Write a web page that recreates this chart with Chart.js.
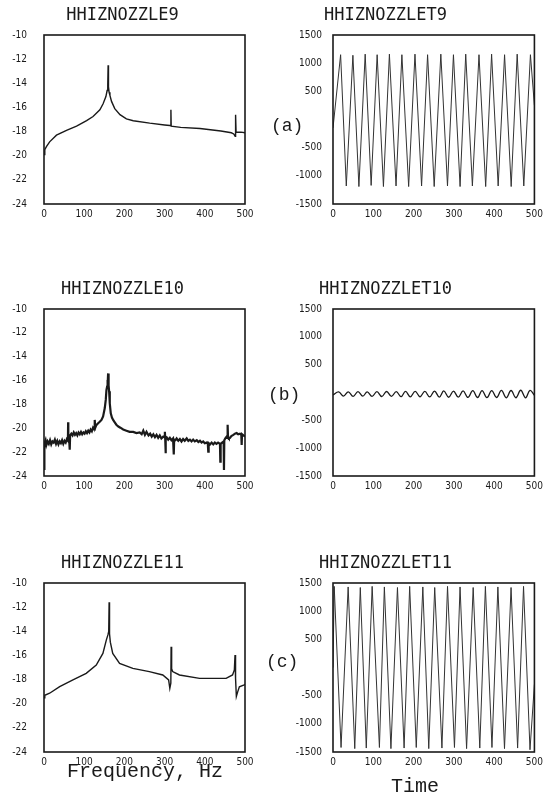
<!DOCTYPE html>
<html>
<head>
<meta charset="utf-8">
<title>HHIZNOZZLE</title>
<script src="https://cdn.jsdelivr.net/npm/chart.js@4.4.0/dist/chart.umd.min.js"></script>
<style>
  html, body { margin: 0; padding: 0; background: #fff; }
  body { width: 547px; height: 794px; position: relative; overflow: hidden; }
  canvas { position: absolute; }
  .tag { position: absolute; font-family: "Liberation Mono", monospace; color: #1a1a1a; white-space: pre; }
  .tag.case { font-size: 18px; line-height: 18px; }
  .tag.axis { font-size: 20px; line-height: 20px; }
</style>
</head>
<body>
<canvas id="spec9" width="266" height="230" style="left:0;top:0"></canvas>
<canvas id="time9" width="312" height="230" style="left:235px;top:0"></canvas>
<canvas id="spec10" width="266" height="228" style="left:0;top:274px"></canvas>
<canvas id="time10" width="312" height="228" style="left:235px;top:274px"></canvas>
<canvas id="spec11" width="266" height="246" style="left:0;top:548px"></canvas>
<canvas id="time11" width="312" height="246" style="left:235px;top:548px"></canvas>

<div class="tag case" style="left:271px;top:117px">(a)</div>
<div class="tag case" style="left:268px;top:386px">(b)</div>
<div class="tag case" style="left:266px;top:653px">(c)</div>
<div class="tag axis" style="left:67px;top:762px">Frequency, Hz</div>
<div class="tag axis" style="left:391px;top:777px">Time</div>

<script>
// ticks
const xTicks = [0, 100, 200, 300, 400, 500];
const levelTicks = [-24, -22, -20, -18, -16, -14, -12, -10];
const levelLabels = ['-24', '-22', '-20', '-18', '-16', '-14', '-12', '-10'];
const pressTicks = [-1500, -1000, -500, 0, 500, 1000, 1500];
const pressLabels = ['-1500', '-1000', '-500', '', '500', '1000', '1500'];

// panel titles
const specTitles = ['HHIZNOZZLE9', 'HHIZNOZZLE10', 'HHIZNOZZLE11'];
const timeTitles = ['HHIZNOZZLET9', 'HHIZNOZZLET10', 'HHIZNOZZLET11'];

// spectrum, nozzle 9
const spec9Hz = [0, 2, 6, 14, 31, 56, 81, 106, 122, 139,
  147, 154, 157, 158.6, 159.5, 160.4, 162, 164, 168, 176,
  189, 205, 222, 263, 300, 313, 315, 315.7, 316.4, 340,
  388, 440, 466, 472, 475.5, 476.6, 477.8, 490, 500];
const spec9Level = [-19.9, -19.5, -19.25, -18.85, -18.3, -17.9, -17.55, -17.1, -16.75, -16.2,
  -15.7, -15.1, -14.6, -14.2, -12.5, -14.3, -14.75, -15.0, -15.5, -16.1,
  -16.6, -16.95, -17.1, -17.3, -17.45, -17.5, -17.5, -16.2, -17.55, -17.65,
  -17.75, -17.95, -18.1, -18.2, -18.4, -16.6, -18.05, -18.05, -18.1];

// spectrum, nozzle 10 (noisy)
const spec10Hz = [0, 1, 4, 6, 9, 12, 15, 18, 21, 24,
  27, 30, 33, 36, 39, 42, 45, 48, 51, 54,
  57, 59.5, 60, 60.5, 63, 64, 65, 68, 71, 74,
  77, 80, 83, 86, 89, 92, 95, 98, 101, 104,
  107, 110, 113, 116, 119, 122, 125, 126.2, 127.5, 130,
  134, 138.7, 143, 147, 151.2, 153.7, 155.3, 157, 157.8, 158.6,
  159.5, 160.3, 161.1, 162, 163.6, 166.1, 169, 172, 176, 180,
  185, 190, 197, 205, 213, 222, 230, 238, 243, 247,
  251, 255, 260, 264, 268, 272, 276, 280, 284, 288,
  292, 296.5, 299, 300.7, 301.5, 302.3, 303.2, 305, 309, 313,
  317, 321, 322.5, 323.1, 323.8, 327, 330, 334, 338, 342,
  346, 350, 355, 359, 363, 367, 371, 375, 380, 384,
  388, 392, 396, 400, 404.5, 407.5, 408.6, 409.6, 413, 417,
  421, 425, 429, 433, 437.7, 438.6, 439.4, 443, 446.9, 447.7,
  448.5, 451, 454.3, 455.5, 456.8, 457.8, 460, 462.6, 466, 471,
  475, 479, 483, 487.5, 490.8, 491.7, 492.6, 496, 498.5, 500];
const spec10Level = [-23.4, -21.3, -21.0, -21.4, -21.1, -21.3, -21.0, -21.35, -21.1, -21.2,
  -20.95, -21.3, -21.05, -21.35, -21.1, -21.25, -21.0, -21.3, -21.05, -21.2,
  -20.9, -21.0, -19.5, -21.1, -21.2, -21.8, -20.6, -20.45, -20.6, -20.35,
  -20.55, -20.4, -20.6, -20.35, -20.5, -20.3, -20.5, -20.35, -20.45, -20.25,
  -20.4, -20.2, -20.35, -20.1, -20.25, -19.95, -20.1, -19.3, -19.95, -19.75,
  -19.6, -19.45, -19.3, -19.0, -18.3, -17.6, -16.8, -16.5, -15.95, -16.4,
  -15.4, -16.6, -16.4, -16.9, -17.9, -18.75, -19.1, -19.3, -19.5, -19.7,
  -19.85, -19.95, -20.1, -20.2, -20.3, -20.3, -20.4, -20.35, -20.5, -20.2,
  -20.55, -20.3, -20.6, -20.45, -20.7, -20.5, -20.75, -20.55, -20.8, -20.6,
  -20.85, -20.7, -20.75, -20.3, -20.85, -22.1, -20.8, -20.75, -20.95, -20.8,
  -21.0, -20.85, -20.9, -22.2, -20.95, -21.0, -20.85, -21.05, -20.9, -21.1,
  -20.9, -21.05, -20.85, -21.05, -20.95, -21.1, -20.95, -21.1, -21.0, -21.15,
  -21.05, -21.2, -21.1, -21.25, -21.2, -21.3, -21.95, -21.25, -21.35, -21.2,
  -21.35, -21.2, -21.3, -21.2, -21.3, -22.8, -21.3, -21.2, -21.1, -23.5,
  -21.0, -20.85, -20.7, -20.8, -19.7, -20.75, -20.85, -20.8, -20.65, -20.55,
  -20.45, -20.4, -20.5, -20.45, -20.55, -21.4, -20.5, -20.6, -20.65, -20.7];

// spectrum, nozzle 11
const spec11Hz = [0, 2, 14, 39, 72, 105, 130, 146.5, 155, 159,
  161, 162, 163, 165, 171, 188, 221, 262, 295.5, 310,
  313, 315.5, 316.2, 317.5, 320, 337, 387, 453, 469, 473.5,
  475.2, 476.5, 478.5, 482, 486, 498, 500];
const spec11Level = [-19.5, -19.3, -19.13, -18.58, -18.03, -17.48, -16.8, -15.83, -14.73, -14.3,
  -14.0, -11.6, -14.2, -14.9, -15.83, -16.66, -17.07, -17.34, -17.62, -18.03,
  -18.72, -18.3, -15.28, -17.1, -17.34, -17.62, -17.9, -17.9, -17.62, -17.2,
  -15.97, -17.9, -19.4, -19.0, -18.6, -18.44, -18.4];

// time traces
const time9T = [0, 18.9, 33, 49.4, 64.3, 79.9, 94.7, 109.6, 125.2, 140,
  156.5, 171, 187.8, 203.5, 219.9, 234.8, 251.2, 267.7, 284.2, 299,
  315.5, 329.5, 346, 362.4, 379, 393.7, 410, 425.9, 442.3, 457.2,
  473.6, 490.1, 500];
const time9P = [-150, 1150, -1180, 1140, -1190, 1160, -1170, 1150, -1190, 1160,
  -1180, 1150, -1190, 1160, -1180, 1150, -1190, 1160, -1180, 1150,
  -1190, 1160, -1180, 1150, -1190, 1160, -1180, 1150, -1190, 1160,
  -1180, 1150, 250];

const time10T = [0, 14, 26, 38, 50, 62, 74, 85, 97, 109,
  121, 133, 145, 157, 169, 180, 192, 204, 216, 228,
  240, 252, 264, 275, 287, 299, 311, 323, 335, 347,
  359, 370, 382, 394, 406, 418, 430, 442, 454, 466,
  478, 489, 500];
const time10P = [-45, 10, -65, 12, -68, 14, -66, 12, -70, 15,
  -72, 18, -70, 15, -75, 20, -78, 22, -76, 20,
  -80, 25, -82, 28, -85, 26, -83, 30, -88, 32,
  -90, 35, -92, 33, -90, 38, -95, 36, -94, 40,
  -96, 38, -50];

const time11T = [0, 3, 20, 37.6, 54, 67.8, 82.6, 97.2, 115.2, 127.5,
  143.8, 160, 176.5, 190.3, 206.7, 223, 237.7, 252.5, 270.4, 284.3,
  301.5, 315.4, 331.6, 348, 364.4, 378.3, 394.6, 409.3, 425.7, 442,
  458.3, 473, 489, 500];
const time11P = [0, 1440, -1420, 1430, -1440, 1420, -1430, 1440, -1420, 1430,
  -1440, 1420, -1430, 1440, -1420, 1430, -1440, 1420, -1430, 1440,
  -1420, 1430, -1440, 1420, -1430, 1440, -1420, 1430, -1440, 1420,
  -1430, 1440, -1460, -300];

const ink = '#1a1a1a';
const tickFont = { family: '"Liberation Sans Narrow", "DejaVu Sans Condensed", sans-serif', size: 10 };
const titleFont = { family: '"DejaVu Sans Mono", monospace', size: 17, weight: 'normal' };

// box round the plot area
const framePlugin = {
    id: 'frame',
    afterDraw(chart) {
        const { ctx, chartArea: a } = chart;
        ctx.save();
        ctx.strokeStyle = ink;
        ctx.lineWidth = 1.6;
        ctx.strokeRect(a.left, a.top, a.right - a.left, a.bottom - a.top);
        ctx.restore();
    }
};

function drawPanel(id, title, xs, ys, kind, opts) {
    const isSpec = kind === 'spec';
    const yTicks = isSpec ? levelTicks : pressTicks;
    const yLabels = isSpec ? levelLabels : pressLabels;
    new Chart(document.getElementById(id), {
        type: 'line',
        data: {
            datasets: [{
                data: xs.map((x, i) => ({ x, y: ys[i] })),
                borderColor: opts.color || ink,
                borderWidth: opts.lineWidth,
                pointRadius: 0,
                tension: opts.tension || 0,
            }]
        },
        options: {
            responsive: false,
            animation: false,
            events: [],
            layout: { padding: { right: isSpec ? 21 : 11 } },
            plugins: {
                legend: { display: false },
                tooltip: { enabled: false },
                title: {
                    display: true,
                    text: title,
                    color: ink,
                    font: titleFont,
                    padding: { top: 5, bottom: 9.6 }
                }
            },
            scales: {
                x: {
                    type: 'linear',
                    min: 0,
                    max: 500,
                    grid: { display: false, drawTicks: false },
                    border: { display: false },
                    afterBuildTicks: s => { s.ticks = xTicks.map(v => ({ value: v })); },
                    afterFit: s => { s.height = opts.xHeight; },
                    ticks: {
                        font: tickFont, color: ink, padding: 4,
                        maxRotation: 0, autoSkip: false,
                        callback: v => String(v)
                    }
                },
                y: {
                    min: yTicks[0],
                    max: yTicks[yTicks.length - 1],
                    grid: { display: false, drawTicks: false },
                    border: { display: false },
                    afterBuildTicks: s => { s.ticks = yTicks.map(v => ({ value: v })); },
                    afterFit: s => { s.width = isSpec ? 44 : 98; },
                    ticks: {
                        font: tickFont, color: ink, padding: isSpec ? 17 : 11,
                        autoSkip: false,
                        callback: (v, i) => yLabels[i]
                    }
                }
            }
        },
        plugins: [framePlugin]
    });
}

drawPanel('spec9', specTitles[0], spec9Hz, spec9Level, 'spec', { lineWidth: 1.4, xHeight: 26 });
drawPanel('time9', timeTitles[0], time9T, time9P, 'time', { lineWidth: 1, xHeight: 26, color: '#333' });
drawPanel('spec10', specTitles[1], spec10Hz, spec10Level, 'spec', { lineWidth: 2.2, xHeight: 26 });
drawPanel('time10', timeTitles[1], time10T, time10P, 'time', { lineWidth: 1.3, xHeight: 26, tension: 0.4 });
drawPanel('spec11', specTitles[2], spec11Hz, spec11Level, 'spec', { lineWidth: 1.4, xHeight: 42 });
drawPanel('time11', timeTitles[2], time11T, time11P, 'time', { lineWidth: 1, xHeight: 42, color: '#333' });
</script>
</body>
</html>
